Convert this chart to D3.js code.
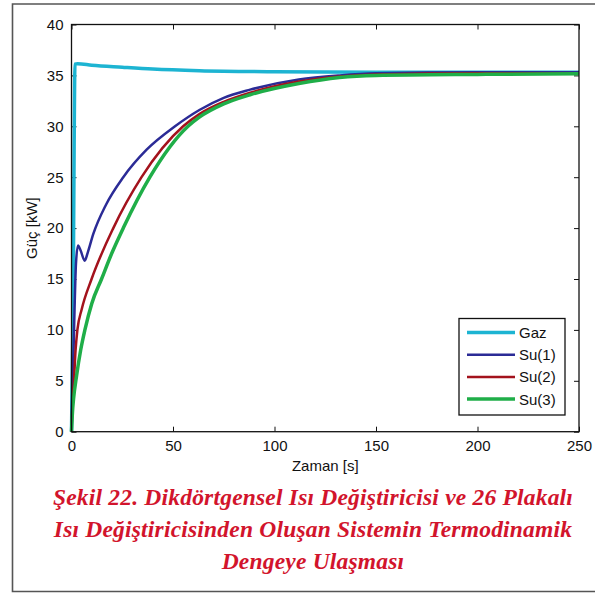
<!DOCTYPE html>
<html>
<head>
<meta charset="utf-8">
<script src="https://cdn.jsdelivr.net/npm/d3@7"></script>
<style>
  body { margin: 0; background: #fff; }
  svg { display: block; }
</style>
</head>
<body>
<div id="chart"></div>
<script>
// values, [time s, power kW]
var gaz = [[0,0],[0.8,12],[1.3,28],[1.7,36.1],[3,36.15],[10,36.0],[25,35.8],[40,35.62],[63,35.46],[100,35.36],[150,35.32],[250,35.3]];
var su1 = [[0,0],[0.5,5],[1,8],[1.5,12],[2.2,16.5],[3.2,18.3],[4.5,17.8],[6.5,16.8],[8,17.6],[10.7,19.4],[17,22.3],[25.5,25],[37,27.7],[51,30],[63,31.6],[75,32.8],[88,33.6],[112,34.6],[132,35.0],[150,35.2],[200,35.3],[250,35.3]];
var su2 = [[0,0],[0.5,3],[1.2,5],[2,8],[2.9,10],[5,12],[9.9,15],[20.6,20],[34.5,25],[55,30],[63,31.2],[75,32.4],[88,33.3],[112,34.4],[132,34.9],[150,35.1],[200,35.2],[250,35.2]];
var su3 = [[0,0],[0.5,2],[1,3.2],[2.5,5.5],[4.5,8],[6.6,10],[10,12.6],[14.8,15],[20,17.6],[25.5,20],[38.6,25],[57.4,30],[63,30.9],[75,32.2],[88,33.1],[112,34.2],[132,34.8],[150,35.0],[200,35.1],[250,35.15]];

var seriesNames = ["Gaz", "Su(1)", "Su(2)", "Su(3)"];
var seriesData = [gaz, su1, su2, su3];
var seriesColors = ["#1db4d2", "#2b2b96", "#a3121c", "#1fae48"];
var seriesWidths = [3.5, 2.5, 2.5, 3.5];

var xTicks = [0, 50, 100, 150, 200, 250];
var yTicks = [0, 5, 10, 15, 20, 25, 30, 35, 40];

var captionLines = [
  "Şekil 22. Dikdörtgensel Isı Değiştiricisi ve 26 Plakalı",
  "Isı Değiştiricisinden Oluşan Sistemin Termodinamik",
  "Dengeye Ulaşması"
];

var width = 595, height = 594;
var plot = {left: 71.5, right: 579, top: 24.5, bottom: 431.7};

var svg = d3.select("#chart").append("svg")
    .attr("width", width)
    .attr("height", height);

// outer frame (right side is cut off in the original)
svg.append("path")
    .attr("d", "M595,4H12.5V591.5H595")
    .attr("fill", "none")
    .attr("stroke", "#555")
    .attr("stroke-width", 1.6);

var x = d3.scaleLinear().domain([0, 250]).range([plot.left, plot.right]);
var y = d3.scaleLinear().domain([0, 40]).range([plot.bottom, plot.top]);

var g = svg.append("g");

// axes, matlab style ticks pointing inward on all four sides
var axFont = "'Liberation Sans', Arial, sans-serif";

g.append("g")
    .attr("transform", "translate(0," + plot.bottom + ")")
    .call(d3.axisBottom(x).tickValues(xTicks).tickSizeInner(-5).tickSizeOuter(0).tickPadding(9))
g.append("g")
    .attr("transform", "translate(0," + plot.top + ")")
    .call(d3.axisTop(x).tickValues(xTicks).tickSizeInner(-5).tickSizeOuter(0).tickFormat(""))
g.append("g")
    .attr("transform", "translate(" + plot.left + ",0)")
    .call(d3.axisLeft(y).tickValues(yTicks).tickSizeInner(-5).tickSizeOuter(0).tickPadding(8))
g.append("g")
    .attr("transform", "translate(" + plot.right + ",0)")
    .call(d3.axisRight(y).tickValues(yTicks).tickSizeInner(-5).tickSizeOuter(0).tickFormat(""))

g.selectAll(".domain").remove();
g.selectAll(".tick line").attr("stroke", "#111");
g.selectAll(".tick text")
    .attr("font-family", axFont)
    .attr("font-size", "15px")
    .attr("fill", "#111");

// curves
var line = d3.line()
    .x(d => x(d[0]))
    .y(d => y(d[1]))
    .curve(d3.curveMonotoneX);

g.selectAll(".series")
    .data(seriesData)
    .enter().append("path")
    .attr("class", "series")
    .attr("d", line)
    .attr("fill", "none")
    .attr("stroke", (d, i) => seriesColors[i])
    .attr("stroke-width", (d, i) => seriesWidths[i])
    .attr("stroke-linejoin", "round");

// plot frame
g.append("rect")
    .attr("x", plot.left)
    .attr("y", plot.top)
    .attr("width", plot.right - plot.left)
    .attr("height", plot.bottom - plot.top)
    .attr("fill", "none")
    .attr("stroke", "#111")
    .attr("stroke-width", 1.3);

// axis titles
svg.append("text")
    .attr("x", (plot.left + plot.right) / 2)
    .attr("y", 471)
    .attr("text-anchor", "middle")
    .attr("font-family", axFont)
    .attr("font-size", "15px")
    .attr("fill", "#111")
    .text("Zaman [s]");

svg.append("text")
    .attr("transform", "translate(37," + (plot.top + plot.bottom) / 2 + ") rotate(-90)")
    .attr("text-anchor", "middle")
    .attr("font-family", axFont)
    .attr("font-size", "15px")
    .attr("fill", "#111")
    .text("Güç [kW]");

// legend
var legend = svg.append("g");
legend.append("rect")
    .attr("x", 459)
    .attr("y", 318.5)
    .attr("width", 106)
    .attr("height", 96.5)
    .attr("fill", "#fff")
    .attr("stroke", "#111")
    .attr("stroke-width", 1.3);

var items = legend.selectAll(".item")
    .data(seriesNames)
    .enter().append("g")
    .attr("transform", (d, i) => "translate(0," + (332.5 + i * 22.2) + ")");

items.append("line")
    .attr("x1", 467).attr("x2", 515)
    .attr("stroke", (d, i) => seriesColors[i])
    .attr("stroke-width", (d, i) => seriesWidths[i]);

items.append("text")
    .attr("x", 519)
    .attr("dy", "0.36em")
    .attr("font-family", axFont)
    .attr("font-size", "15px")
    .attr("fill", "#111")
    .text(d => d);

// caption
svg.selectAll(".caption")
    .data(captionLines)
    .enter().append("text")
    .attr("class", "caption")
    .attr("x", 313)
    .attr("y", (d, i) => 505 + i * 32)
    .attr("text-anchor", "middle")
    .attr("font-family", "'Liberation Serif', 'Times New Roman', serif")
    .attr("font-style", "italic")
    .attr("font-weight", "bold")
    .attr("font-size", "23.5px")
    .attr("letter-spacing", "0.2px")
    .attr("fill", "#d2142c")
    .text(d => d);
</script>
</body>
</html>
